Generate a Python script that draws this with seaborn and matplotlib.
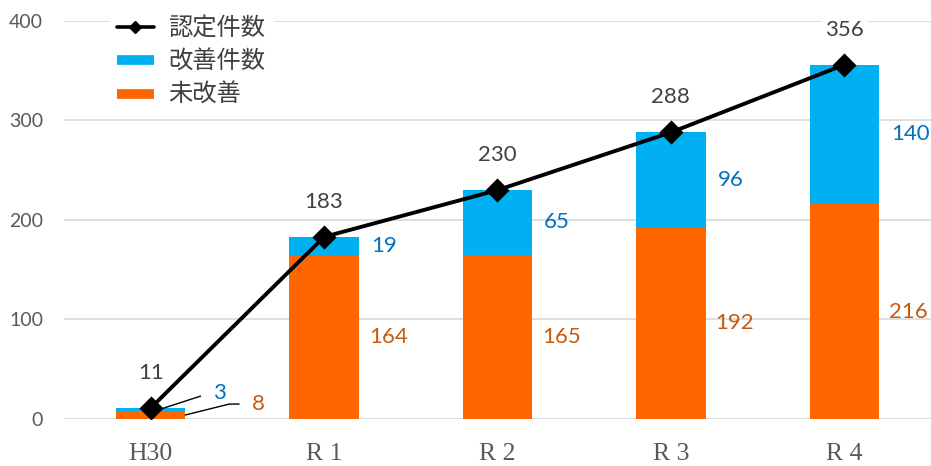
import matplotlib
matplotlib.use("Agg")
import matplotlib.pyplot as plt
import seaborn as sns
import pandas as pd
from matplotlib.lines import Line2D

# fiscal years and counts
years = ["H30", "R 1", "R 2", "R 3", "R 4"]
improved = [3, 19, 65, 96, 140]        # 改善件数
unimproved = [8, 164, 165, 192, 216]   # 未改善
certified = [11, 183, 230, 288, 356]   # 認定件数

C_BLUE = "#00B0F0"
C_ORANGE = "#FF6600"
C_BLUE_TXT = "#0070C0"
C_ORANGE_TXT = "#C55A11"
C_GRAY = "#595959"

sns.set_theme(style="white")
plt.rcParams["font.family"] = ["Lato", "Noto Sans CJK JP", "DejaVu Sans"]

df = pd.DataFrame({"year": years, "improved": improved,
                   "unimproved": unimproved, "certified": certified})
df["stack_top"] = df["improved"] + df["unimproved"]

fig = plt.figure(figsize=(9.31, 4.66), dpi=100)
ax = fig.add_axes([0.0687, 0.1009, 0.9313, 0.8541])

# stacked bars: full height in blue, lower part in orange
sns.barplot(data=df, x="year", y="stack_top", color=C_BLUE, width=0.4,
            saturation=1, linewidth=0, ax=ax, zorder=2)
sns.barplot(data=df, x="year", y="unimproved", color=C_ORANGE, width=0.4,
            saturation=1, linewidth=0, ax=ax, zorder=3)
# total line
sns.pointplot(data=df, x="year", y="certified", color="black", markers="D",
              markersize=10, linewidth=2.8, errorbar=None, ax=ax, zorder=5)

ax.set_ylim(0, 400)
ax.set_xlim(-0.5, 4.5)
ax.set_yticks([0, 100, 200, 300, 400])
ax.yaxis.grid(True, color="#D9D9D9", linewidth=1.2, zorder=0)
ax.set_axisbelow(True)
for s in ax.spines.values():
    s.set_visible(False)
ax.set_xlabel("")
ax.set_ylabel("")
ax.tick_params(axis="y", length=0, pad=15, labelsize=14, labelcolor=C_GRAY)
ax.tick_params(axis="x", length=0, pad=17, labelcolor=C_GRAY)
for lab in ax.get_xticklabels():
    lab.set_fontfamily("Liberation Serif")
    lab.set_fontsize(18.5)

txt_kw = dict(fontsize=16, annotation_clip=False)

# totals above the markers
for i, v in enumerate(certified):
    ax.annotate(f"{v}", (i, v), xytext=(0, 35), textcoords="offset pixels",
                ha="center", va="center", color="#404040", zorder=6,
                bbox=dict(boxstyle="square,pad=0.15", fc="white", ec="none"),
                **txt_kw)

# segment values to the right of the bars
for i in range(1, len(years)):
    ax.annotate(f"{improved[i]}", (i + 0.2, unimproved[i] + improved[i] / 2),
                xytext=(12, 0), textcoords="offset pixels", ha="left",
                va="center", color=C_BLUE_TXT, **txt_kw)
    ax.annotate(f"{unimproved[i]}", (i + 0.2, unimproved[i] / 2),
                xytext=(10, 0), textcoords="offset pixels", ha="left",
                va="center", color=C_ORANGE_TXT, **txt_kw)

# small first-year segments with leader lines
ax.annotate(f"{improved[0]}", xy=(0.05, unimproved[0] + improved[0] / 2),
            xytext=(0.36, 26), ha="left", va="center", color=C_BLUE_TXT,
            arrowprops=dict(arrowstyle="-", color="black", lw=1,
                            shrinkA=7, shrinkB=0,
                            connectionstyle="angle,angleA=0,angleB=18,rad=0"),
            **txt_kw)
ax.annotate(f"{unimproved[0]}", xy=(0.2, unimproved[0] / 2),
            xytext=(0.585, 15), ha="left", va="center", color=C_ORANGE_TXT,
            arrowprops=dict(arrowstyle="-", color="black", lw=1,
                            shrinkA=7, shrinkB=0,
                            connectionstyle="angle,angleA=0,angleB=14,rad=0"),
            **txt_kw)

handles = [
    Line2D([], [], color="black", lw=2.6, marker="D", markersize=6),
    Line2D([], [], color=C_BLUE, lw=7, solid_capstyle="butt"),
    Line2D([], [], color=C_ORANGE, lw=7, solid_capstyle="butt"),
]
leg = ax.legend(handles, ["認定件数", "改善件数", "未改善"], loc="upper left",
                bbox_to_anchor=(0.039, 1.0625), frameon=True, fancybox=False,
                framealpha=1, edgecolor="white", facecolor="white",
                fontsize=17.5, handlelength=1.5, handletextpad=0.6,
                labelspacing=0.3, borderpad=0.3)
for t in leg.get_texts():
    t.set_color("#404040")
    t.set_fontfamily(["Noto Sans CJK JP", "DejaVu Sans"])
leg.set_zorder(10)

fig.savefig("out.png", dpi=100)
